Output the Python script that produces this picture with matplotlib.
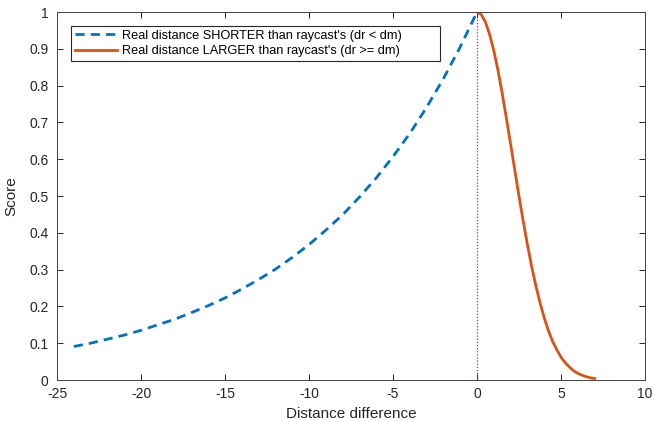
import matplotlib
matplotlib.use("Agg")
import matplotlib.pyplot as plt

plt.rcParams["font.family"] = ["Liberation Sans", "DejaVu Sans"]

# Values
x_shorter = [-24, -23, -22, -21, -20, -19, -18, -17, -16, -15, -14, -13, -12,
             -11, -10, -9, -8, -7, -6, -5, -4, -3, -2, -1, 0]
y_shorter = [0.091, 0.100, 0.111, 0.122, 0.135, 0.150, 0.165, 0.183, 0.202,
             0.223, 0.247, 0.273, 0.301, 0.333, 0.368, 0.407, 0.449, 0.497,
             0.549, 0.607, 0.670, 0.741, 0.819, 0.905, 1.0]

x_larger = [0, 0.25, 0.5, 0.75, 1, 1.25, 1.5, 1.75, 2, 2.25, 2.5, 2.75, 3,
            3.25, 3.5, 3.75, 4, 4.25, 4.5, 4.75, 5, 5.25, 5.5, 5.75, 6, 6.25,
            6.5, 6.75, 7]
y_larger = [1.0, 0.993, 0.973, 0.939, 0.895, 0.841, 0.779, 0.711, 0.641, 0.570,
            0.499, 0.432, 0.368, 0.309, 0.257, 0.210, 0.169, 0.134, 0.105,
            0.082, 0.062, 0.047, 0.035, 0.025, 0.018, 0.013, 0.009, 0.006,
            0.004]

x_ticks = [-25, -20, -15, -10, -5, 0, 5, 10]
y_ticks = [0, 0.1, 0.2, 0.3, 0.4, 0.5, 0.6, 0.7, 0.8, 0.9, 1]
y_ticklabels = ["0", "0.1", "0.2", "0.3", "0.4", "0.5", "0.6", "0.7", "0.8", "0.9", "1"]

label_shorter = "Real distance SHORTER than raycast's (dr < dm)"
label_larger = "Real distance LARGER than raycast's (dr >= dm)"

dark = "#262626"

fig = plt.figure(figsize=(6.54, 4.21), dpi=100, facecolor="white")
ax = fig.add_axes([57 / 654, 41 / 421, 588 / 654, 368 / 421])

ax.plot(x_shorter, y_shorter, linestyle=(0, (3.3, 2.2)), color="#0072BD", lw=2,
        label=label_shorter)
ax.plot(x_larger, y_larger, color="#D95319", lw=2, label=label_larger)
ax.plot([0, 0], [0, 1], linestyle=(0, (1, 1.5)), color="#A020C8", lw=0.9)

ax.set_xlim(-25, 10)
ax.set_ylim(0, 1)
ax.set_xticks(x_ticks)
ax.set_xticklabels([str(t) for t in x_ticks])
ax.set_yticks(y_ticks)
ax.set_yticklabels(y_ticklabels)
ax.tick_params(direction="in", top=True, right=True, length=4.5, width=0.7,
               colors=dark, labelsize=10)
ax.tick_params(axis="x", pad=5)
ax.tick_params(axis="y", pad=6)
for s in ax.spines.values():
    s.set_color("#444444")
    s.set_linewidth(0.7)

ax.set_xlabel("Distance difference", fontsize=11, color=dark, labelpad=4)
ax.set_ylabel("Score", fontsize=11, color=dark, labelpad=8)

leg = ax.legend(loc="upper left", bbox_to_anchor=(14 / 588, 0.5, 369 / 588, 0.4627),
                mode="expand", fontsize=9.2, frameon=True, fancybox=False,
                edgecolor=dark, framealpha=1, borderpad=0.3, handlelength=3.3,
                handletextpad=0.4, labelspacing=0.28, borderaxespad=0)
leg.get_frame().set_linewidth(0.8)

fig.savefig("out.png", dpi=100, facecolor="white")
